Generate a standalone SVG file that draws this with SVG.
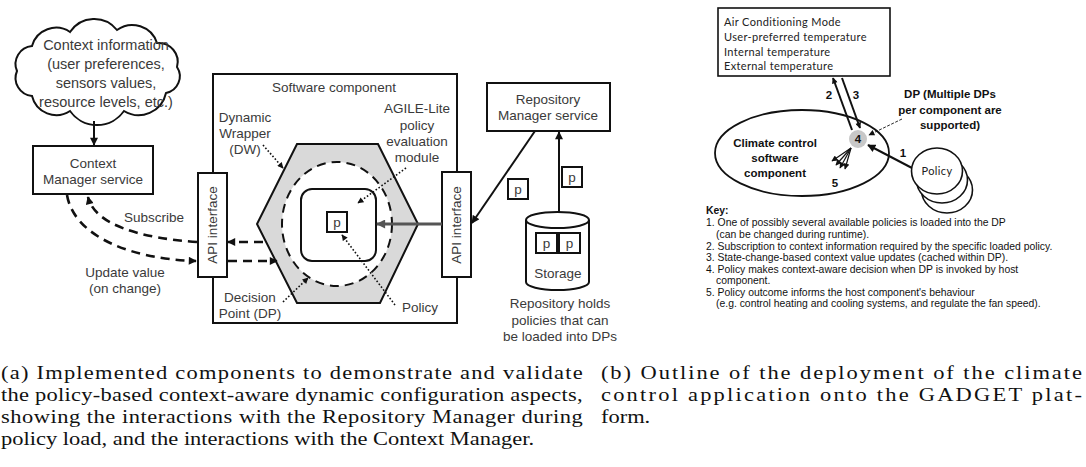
<svg xmlns="http://www.w3.org/2000/svg" width="1086" height="467" viewBox="0 0 1086 467">
<style>
.lbl{font-family:"Liberation Sans",Arial,sans-serif;font-size:13.5px;fill:#3a3a3a;text-anchor:middle}
.cl{font-size:14.5px}
.ln{fill:none;stroke:#111;stroke-width:2}
.dash{fill:none;stroke:#111;stroke-width:2.6;stroke-dasharray:9,6}
.dot{fill:none;stroke:#111;stroke-width:1.6;stroke-dasharray:1.6,2}
.bold{font-family:"Liberation Sans",Arial,sans-serif;font-size:11.5px;font-weight:bold;fill:#111;text-anchor:middle}
.cal{font-family:Lato,"Open Sans",sans-serif;font-size:11px;fill:#222;letter-spacing:0.35px}
.key{font-family:"Liberation Sans",Arial,sans-serif;font-size:10.4px;fill:#111}
.cap{font-family:"Liberation Serif","Times New Roman",serif;font-size:19.8px;fill:#111}
</style>
<defs>
<marker id="ah" viewBox="0 0 10 10" refX="9" refY="5" markerWidth="9" markerHeight="8" markerUnits="userSpaceOnUse" orient="auto"><path d="M0,0 L10,5 L0,10 z" fill="#111"/></marker>
<marker id="ahs" viewBox="0 0 10 10" refX="9" refY="5" markerWidth="7" markerHeight="6" markerUnits="userSpaceOnUse" orient="auto"><path d="M0,0 L10,5 L0,10 z" fill="#111"/></marker>
<marker id="ahg" viewBox="0 0 10 10" refX="9" refY="5" markerWidth="11" markerHeight="9" markerUnits="userSpaceOnUse" orient="auto"><path d="M0,0 L10,5 L0,10 z" fill="#555"/></marker>
</defs>
<rect width="1086" height="467" fill="#fff"/>

<!-- Left diagram nodes -->
<g id="cloud">
<path d="M17,71 A18,18 0 0 1 32,46 A25,25 0 0 1 70,32 A29,29 0 0 1 117,30 A26,26 0 0 1 157,43 A19,19 0 0 1 177,67 A17,17 0 0 1 166,93 A28,28 0 0 1 124,111 A33,33 0 0 1 70,111 A25,25 0 0 1 32,96 A18,18 0 0 1 17,71 Z" fill="#fff" stroke="#111" stroke-width="2"/>
<text class="lbl cl" x="106" y="50">Context information</text>
<text class="lbl cl" x="106" y="69">(user preferences,</text>
<text class="lbl cl" x="106" y="88">sensors values,</text>
<text class="lbl cl" x="106" y="107">resource levels, etc.)</text>
</g>
<g id="context-manager">
<rect x="33" y="146" width="120" height="48" fill="#fff" stroke="#111" stroke-width="2"/>
<text class="lbl" x="93" y="168">Context</text>
<text class="lbl" x="93" y="184">Manager service</text>
</g>
<g id="software-component">
<rect x="213" y="74" width="244" height="249" fill="#fff" stroke="#111" stroke-width="2"/>
<text class="lbl" x="334" y="92">Software component</text>
</g>
<g id="dynamic-wrapper">
<polygon points="297,144 378,144 418,224 380,303 297,303 257,224" fill="#d9d9d9" stroke="#111" stroke-width="2"/>
<text class="lbl" x="245" y="122">Dynamic</text>
<text class="lbl" x="245" y="138">Wrapper</text>
<text class="lbl" x="245" y="154">(DW)</text>
</g>
<g id="decision-point">
<ellipse cx="337" cy="224" rx="55" ry="62" fill="#fff" stroke="#111" stroke-width="2" stroke-dasharray="9,6"/>
<text class="lbl" x="250" y="302">Decision</text>
<text class="lbl" x="250" y="318">Point (DP)</text>
</g>
<g id="agile-lite">
<rect x="301" y="189" width="75" height="72" rx="11" fill="#fff" stroke="#111" stroke-width="2"/>
<text class="lbl" x="417" y="113">AGILE-Lite</text>
<text class="lbl" x="417" y="130">policy</text>
<text class="lbl" x="417" y="146">evaluation</text>
<text class="lbl" x="417" y="162">module</text>
</g>
<g id="policy">
<rect x="327" y="212" width="20" height="20" fill="#fff" stroke="#111" stroke-width="2"/>
<text class="lbl" x="337" y="227">p</text>
<text class="lbl" x="420" y="312">Policy</text>
</g>
<g id="api-left">
<rect x="198" y="173" width="29" height="104" fill="#fff" stroke="#111" stroke-width="2"/>
<text class="lbl" transform="translate(217,225) rotate(-90)">API interface</text>
</g>
<g id="api-right">
<rect x="442" y="172" width="29" height="105" fill="#fff" stroke="#111" stroke-width="2"/>
<text class="lbl" transform="translate(461,225) rotate(-90)">API interface</text>
</g>
<g id="repository-manager">
<rect x="487" y="83" width="123" height="48" fill="#fff" stroke="#111" stroke-width="2"/>
<text class="lbl" x="548" y="104">Repository</text>
<text class="lbl" x="548" y="120">Manager service</text>
</g>
<g id="p-transit-1">
<rect x="508" y="179" width="20" height="20" fill="#fff" stroke="#111" stroke-width="2"/>
<text class="lbl" x="518" y="194">p</text>
</g>
<g id="p-transit-2">
<rect x="562" y="167" width="20" height="20" fill="#fff" stroke="#111" stroke-width="2"/>
<text class="lbl" x="572" y="182">p</text>
</g>
<g id="storage">
<path d="M526,220 L526,282 A31.5,8 0 0 0 589,282 L589,220" fill="#fff" stroke="#111" stroke-width="2"/>
<ellipse cx="557.5" cy="220" rx="31.5" ry="8" fill="#fff" stroke="#111" stroke-width="2"/>
<rect x="536" y="233" width="21" height="20" fill="#fff" stroke="#111" stroke-width="2"/>
<text class="lbl" x="546.5" y="248">p</text>
<rect x="559" y="233" width="21" height="20" fill="#fff" stroke="#111" stroke-width="2"/>
<text class="lbl" x="569.5" y="248">p</text>
<text class="lbl" x="558" y="278">Storage</text>
<text class="lbl" x="560" y="308">Repository holds</text>
<text class="lbl" x="560" y="325">policies that can</text>
<text class="lbl" x="560" y="341">be loaded into DPs</text>
</g>

<!-- Right diagram nodes -->
<g id="context-box">
<rect x="718" y="8" width="172" height="68" fill="#fff" stroke="#111" stroke-width="1.6"/>
<text class="cal" x="724" y="26">Air Conditioning Mode</text>
<text class="cal" x="724" y="41">User-preferred temperature</text>
<text class="cal" x="724" y="56">Internal temperature</text>
<text class="cal" x="724" y="70">External temperature</text>
</g>
<g id="climate-component">
<ellipse cx="802" cy="153" rx="87" ry="43" fill="#fff" stroke="#111" stroke-width="1.8"/>
<text class="bold" x="775" y="147">Climate control</text>
<text class="bold" x="775" y="162">software</text>
<text class="bold" x="775" y="177">component</text>
</g>
<g id="dp-4">
<circle cx="858" cy="139" r="9" fill="#c8c8c8"/>
<text class="bold" x="858" y="143">4</text>
<text class="bold" x="950" y="98">DP (Multiple DPs</text>
<text class="bold" x="950" y="114">per component are</text>
<text class="bold" x="950" y="129">supported)</text>
</g>
<g id="policy-stack">
<ellipse cx="947" cy="190" rx="25.5" ry="23" fill="#fff" stroke="#111" stroke-width="1.6"/>
<ellipse cx="942" cy="180" rx="25.5" ry="23" fill="#fff" stroke="#111" stroke-width="1.6"/>
<ellipse cx="937" cy="171" rx="25.5" ry="23" fill="#fff" stroke="#111" stroke-width="1.6"/>
<text class="cal" x="937" y="175" text-anchor="middle">Policy</text>
</g>
<g id="key">
<text class="key" x="706" y="214" font-weight="bold">Key:</text>
<text class="key" x="706" y="226">1. One of possibly several available policies is loaded into the DP</text>
<text class="key" x="716" y="238">(can be changed during runtime).</text>
<text class="key" x="706" y="250">2. Subscription to context information required by the specific loaded policy.</text>
<text class="key" x="706" y="261">3. State-change-based context value updates (cached within DP).</text>
<text class="key" x="706" y="273">4. Policy makes context-aware decision when DP is invoked by host</text>
<text class="key" x="716" y="284">component.</text>
<text class="key" x="706" y="296">5. Policy outcome informs the host component's behaviour</text>
<text class="key" x="716" y="307">(e.g. control heating and cooling systems, and regulate the fan speed).</text>
</g>

<!-- Connectors -->
<g id="connectors">
<line class="ln" x1="94" y1="121" x2="94" y2="145" stroke-width="2.6" marker-end="url(#ah)"/>
<path class="dash" d="M197,242 C140,238 95,225 88,197" marker-end="url(#ah)"/>
<path class="dash" d="M67,195 C74,236 130,259 196,261" marker-end="url(#ah)"/>
<line class="dash" x1="263" y1="242" x2="228" y2="242" marker-end="url(#ah)"/>
<line class="dash" x1="228" y1="261" x2="277" y2="261" marker-end="url(#ah)"/>
<line x1="442" y1="224" x2="377" y2="224" stroke="#555" stroke-width="3.2" marker-end="url(#ahg)"/>
<line class="ln" x1="535" y1="131" x2="472" y2="223" stroke-width="1.6" marker-end="url(#ah)"/>
<line class="ln" x1="559" y1="212" x2="559" y2="132" stroke-width="1.6" marker-end="url(#ah)"/>
<line class="dot" x1="263" y1="145" x2="283" y2="168" marker-end="url(#ahs)"/>
<line class="dot" x1="406" y1="168" x2="358" y2="203" marker-end="url(#ahs)"/>
<line class="dot" x1="283" y1="302" x2="308" y2="278" marker-end="url(#ahs)"/>
<line class="dot" x1="395" y1="305" x2="342" y2="235" marker-end="url(#ahs)"/>
<line class="ln" x1="852" y1="130" x2="833" y2="78" stroke-width="1.4" marker-end="url(#ahs)"/>
<line class="ln" x1="842" y1="78" x2="860" y2="128" stroke-width="1.4" marker-end="url(#ahs)"/>
<line class="ln" x1="912" y1="168" x2="868" y2="145" stroke-width="1.8" marker-end="url(#ah)"/>
<line x1="902" y1="119" x2="869" y2="135" stroke="#111" stroke-width="0.9" stroke-dasharray="3,1.5" marker-end="url(#ahs)"/>
<g stroke="#111" stroke-width="1.2" fill="none">
<line x1="851" y1="148" x2="832" y2="161" marker-end="url(#ahs)"/>
<line x1="851" y1="148" x2="836" y2="165" marker-end="url(#ahs)"/>
<line x1="851" y1="148" x2="840" y2="168" marker-end="url(#ahs)"/>
<line x1="851" y1="148" x2="845" y2="169" marker-end="url(#ahs)"/>
</g>
<text class="bold" x="829" y="99">2</text>
<text class="bold" x="856" y="99">3</text>
<text class="bold" x="903" y="157">1</text>
<text class="bold" x="835" y="187">5</text>
<text class="lbl" x="154" y="222">Subscribe</text>
<text class="lbl" x="125" y="277">Update value</text>
<text class="lbl" x="125" y="293">(on change)</text>
</g>

<!-- Captions -->
<g id="captions" transform="scale(1.136,1)">
<text class="cap" x="0.9" y="379" textLength="512" lengthAdjust="spacing">(a) Implemented components to demonstrate and validate</text>
<text class="cap" x="0.9" y="401" textLength="512" lengthAdjust="spacing">the policy-based context-aware dynamic configuration aspects,</text>
<text class="cap" x="0.9" y="423" textLength="512" lengthAdjust="spacing">showing the interactions with the Repository Manager during</text>
<text class="cap" x="0.9" y="445">policy load, and the interactions with the Context Manager.</text>
<text class="cap" x="529" y="379" textLength="423.4" lengthAdjust="spacing">(b) Outline of the deployment of the climate</text>
<text class="cap" x="529" y="401" textLength="423.4" lengthAdjust="spacing">control application onto the GADGET plat-</text>
<text class="cap" x="529" y="423">form.</text>
</g>
</svg>
